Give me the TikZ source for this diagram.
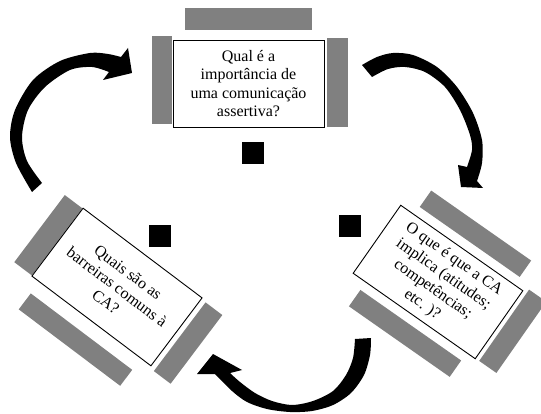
\documentclass[tikz,border=0pt]{standalone}
\usepackage{fontspec}
\setmainfont{Liberation Serif}
\begin{document}
\begin{tikzpicture}[x=1pt,y=-1pt,
  qbox/.style={draw=black, line width=0.9pt, fill=white, minimum width=151pt, minimum height=87pt, align=center, inner sep=2pt, font=\fontsize{16}{18.5}\selectfont},
  chair/.style={fill=gray},
  person/.style={fill=black, minimum size=22pt, inner sep=0pt, outer sep=0pt},
  bendarrow/.style={fill=black}]
\useasboundingbox (0,0) rectangle (541,414);

% top group
\fill[chair] (185,8) rectangle (312,30);
\fill[chair] (152,36) rectangle (172,124);
\fill[chair] (327,38) rectangle (348,127);
\node[qbox] (q1) at (248.5,83.5) {Qual é a\\importância de\\uma comunicação\\assertiva?};
\node[person] (p1) at (253,153) {};

% left group
\begin{scope}[shift={(117,287)}, rotate=-37]
\fill[chair] (-97,-42) rectangle (-75,42);
\fill[chair] (80,-41) rectangle (101,45);
\fill[chair] (-65,57) rectangle (62,77);
\end{scope}
\node[qbox, rotate=-37, minimum width=149pt, minimum height=85pt] (q3) at (117,287) {Quais são as\\barreiras comuns à\\CA?};
\node[person] (p3) at (160,236) {};

% right group
\begin{scope}[shift={(438,282)}, rotate=-35]
\fill[chair] (-58,-71) rectangle (64,-51);
\fill[chair] (-59,51) rectangle (64,71);
\fill[chair] (79,-46) rectangle (100,41);
\end{scope}
\node[qbox, rotate=-35, minimum width=149pt, minimum height=83pt] (q2) at (438,282) {O que é que a CA\\implica (atitudes;\\competências;\\etc. )?};
\node[person] (p2) at (349.5,226) {};

% curved arrows
\fill[bendarrow] (32,192) -- plot[smooth] coordinates {(32,192) (16,163) (10,137) (15,110) (33,80) (60,61) (90,53) (108,54) (121,57)} -- (128,48) -- (132,73) -- (103,80) -- plot[smooth] coordinates {(109,72) (92,67) (70,70) (45,87) (28,110) (22,137) (27,161) (42,183)} -- cycle;

\fill[bendarrow] (362,65) -- plot[smooth] coordinates {(362,65) (377,57) (393,53) (413,55) (437,67) (457,87) (473,113) (482,140) (482,163) (477,181)} -- (483,188) -- (461,187) -- (458,165) -- plot[smooth] coordinates {(467,167) (472,150) (470,135) (460,110) (445,87) (425,72) (405,67) (388,69) (372,77)} -- cycle;

\fill[bendarrow] (371,338) -- plot[smooth] coordinates {(371,338) (370,355) (364,375) (351,393) (333,405) (312,411) (290,412) (267,409) (247,402) (232,391) (215,374)} -- (197,374) -- (213,354) -- (242,370) -- plot[smooth] coordinates {(230,373) (240,382) (255,393) (272,401) (292,405) (313,401) (333,391) (346,375) (353,358) (355,339)} -- cycle;
\end{tikzpicture}
\end{document}
